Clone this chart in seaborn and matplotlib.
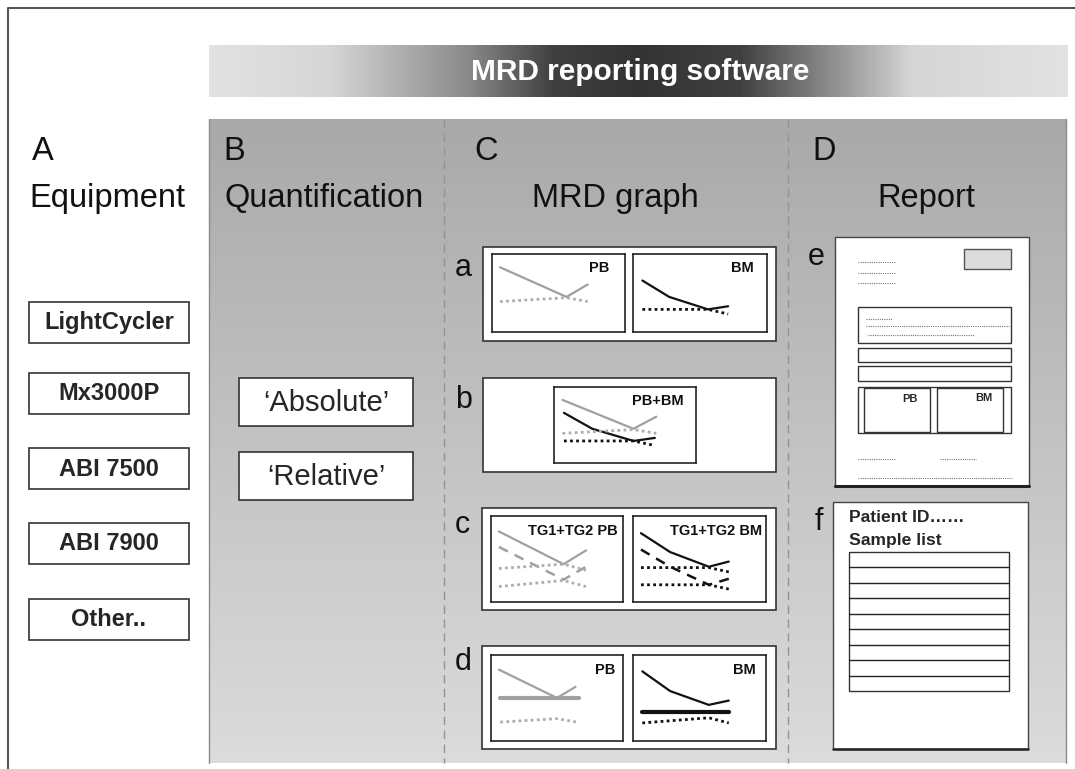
import matplotlib
matplotlib.use('Agg')
import matplotlib.pyplot as plt
from matplotlib.patches import Rectangle
from matplotlib.colors import LinearSegmentedColormap
import seaborn as sns
import numpy as np

sns.set_theme(style='white')
plt.rcParams['font.family'] = ['Liberation Sans', 'DejaVu Sans']

# --- texts ---
title = 'MRD reporting software'
col_letters = ['A', 'B', 'C', 'D']
col_titles = ['Equipment', 'Quantification', 'MRD graph', 'Report']
equipment = ['LightCycler', 'Mx3000P', 'ABI 7500', 'ABI 7900', 'Other..']
quant_modes = ['\u2018Absolute\u2019', '\u2018Relative\u2019']
graph_letters = ['a', 'b', 'c', 'd']

# --- mini MRD graph series (x = relative time, y = relative level) ---
pb_x = [0.06, 0.56, 0.72]
pb_y = [0.83, 0.45, 0.61]
pb_ctrl_y = [0.39, 0.44, 0.39]
bm_x = [0.07, 0.27, 0.56, 0.71]
bm_y = [0.66, 0.45, 0.29, 0.33]
bm_ctrl_x = [0.07, 0.56, 0.71]
bm_ctrl_y = [0.29, 0.29, 0.23]

tg_pb_x = [0.06, 0.55, 0.72]
tg1_pb_y = [0.82, 0.44, 0.60]
tg2_pb_y = [0.64, 0.26, 0.41]
tg1_pb_ctrl = [0.39, 0.44, 0.37]
tg2_pb_ctrl = [0.18, 0.25, 0.18]
tg_bm_x = [0.06, 0.28, 0.57, 0.72]
tg1_bm_y = [0.80, 0.58, 0.41, 0.47]
tg2_bm_y = [0.61, 0.41, 0.20, 0.27]
tg_bm_ctrl_x = [0.06, 0.57, 0.72]
tg1_bm_ctrl = [0.40, 0.40, 0.35]
tg2_bm_ctrl = [0.20, 0.20, 0.15]

d_pb_x = [0.06, 0.50, 0.64]
d_pb_y = [0.83, 0.50, 0.63]
d_pb_thr_x = [0.07, 0.67]
d_pb_thr = [0.50, 0.50]
d_pb_ctrl_x = [0.07, 0.50, 0.65]
d_pb_ctrl = [0.22, 0.26, 0.22]
d_bm_x = [0.07, 0.28, 0.57, 0.72]
d_bm_y = [0.81, 0.58, 0.42, 0.47]
d_bm_thr_x = [0.07, 0.72]
d_bm_thr = [0.34, 0.34]
d_bm_ctrl_x = [0.07, 0.57, 0.72]
d_bm_ctrl = [0.21, 0.27, 0.21]

W, H = 1075, 769
GRAY = '#a0a0a0'
LGRAY = '#adadad'
BLACK = '#111111'
DOT = (0, (1, 1.2))
DASH = (0, (4, 3))

fig = plt.figure(figsize=(W / 100, H / 100), dpi=100)
ax = fig.add_axes([0, 0, 1, 1])


def box(x0, y0, x1, y1, fc='white', ec='#333333', lw=1.2, z=2):
    ax.add_patch(Rectangle((x0, y0), x1 - x0, y1 - y0, fc=fc, ec=ec, lw=lw, zorder=z))


def dots(x0, x1, y):
    ax.plot([x0, x1], [y, y], color='#777777', lw=0.8, ls=(0, (1, 1)), zorder=4)


# outer frame
ax.plot([8, 8, W], [H, 8, 8], color='#555555', lw=1.5, zorder=1)

# banner gradient
banner_cmap = LinearSegmentedColormap.from_list('banner', [
    (0.0, '#e2e2e2'), (0.14, '#d6d6d6'), (0.30, '#8a8a8a'), (0.40, '#404040'),
    (0.50, '#333333'), (0.62, '#404040'), (0.72, '#8a8a8a'), (0.82, '#d6d6d6'),
    (1.0, '#e2e2e2')])
ax.imshow(np.linspace(0, 1, 512).reshape(1, -1), cmap=banner_cmap, aspect='auto',
          extent=(209, 1068, 97, 45), zorder=1)
ax.text(640, 72, title, color='white', fontsize=21.5, fontweight='bold',
        ha='center', va='center', zorder=3)

# panel gradient
panel_cmap = LinearSegmentedColormap.from_list('panel', ['#a9a9a9', '#dcdcdc'])
ax.imshow(np.linspace(0, 1, 256).reshape(-1, 1), cmap=panel_cmap, aspect='auto',
          extent=(209, 1066, 763, 119), zorder=0)
ax.plot([209, 209], [119, 763], color='#8a8a8a', lw=1, zorder=1)
ax.plot([1066, 1066], [119, 763], color='#8a8a8a', lw=1, zorder=1)
for xs in [444, 788]:
    ax.plot([xs, xs], [119, 763], color='#939393', lw=1, ls=(0, (6, 4)), zorder=1)

# column headers
letter_x = [32, 223, 474, 812]
title_x = [29, 225, 615, 926]
title_ha = ['left', 'left', 'center', 'center']
for L, T, lx, tx, ha in zip(col_letters, col_titles, letter_x, title_x, title_ha):
    ax.text(lx, 160, L, fontsize=23.5, ha='left', va='baseline', color='#111111')
    ax.text(tx, 207, T, fontsize=23.5, ha=ha, va='baseline', color='#111111')

# equipment boxes
eq_tops = [302, 373, 448, 523, 599]
for name, top in zip(equipment, eq_tops):
    box(29, top, 189, top + 41)
    ax.text(109, top + 21, name, fontsize=17, fontweight='bold', ha='center', va='center', zorder=3)

# quantification boxes
q_tops = [378, 452]
for name, top in zip(quant_modes, q_tops):
    box(239, top, 413, top + 48)
    ax.text(326, top + 25, name, fontsize=21, ha='center', va='center', zorder=3)

# MRD graph outer boxes
outer = [(483, 247, 776, 341), (483, 378, 776, 472), (482, 508, 776, 610), (482, 646, 776, 749)]
letter_base = [276, 408, 533, 670]
for (x0, y0, x1, y1), yb, lt in zip(outer, letter_base, graph_letters):
    box(x0, y0, x1, y1)
    ax.text(455, yb, lt, fontsize=22, ha='left', va='baseline', color='#111111')


def mini(bx, series, label, lab_x, fs=10.5):
    x0, y0, x1, y1 = bx
    a = fig.add_axes([x0 / W, 1 - y1 / H, (x1 - x0) / W, (y1 - y0) / H])
    a.set_facecolor('white')
    for xs, ys, color, ls, lw in series:
        sns.lineplot(x=xs, y=ys, ax=a, color=color, linestyle=ls, linewidth=lw,
                     sort=False, errorbar=None)
    a.set_xlim(0, 1)
    a.set_ylim(0, 1)
    a.set_xticks([])
    a.set_yticks([])
    a.set_xlabel('')
    a.set_ylabel('')
    for s in a.spines.values():
        s.set_visible(True)
        s.set_color('#222222')
        s.set_linewidth(1.2)
    a.text(lab_x, 0.91, label, transform=a.transAxes, ha='right', va='top',
           fontsize=fs, fontweight='bold', color='#111111')
    return a


# a
mini((492, 254, 625, 332), [(pb_x, pb_y, GRAY, '-', 1.6), (pb_x, pb_ctrl_y, LGRAY, DOT, 2)], 'PB', 0.88)
mini((633, 254, 767, 332), [(bm_x, bm_y, BLACK, '-', 1.6), (bm_ctrl_x, bm_ctrl_y, BLACK, DOT, 2)], 'BM', 0.90)
# b
mini((554, 387, 696, 463), [(pb_x, pb_y, GRAY, '-', 1.6), (bm_x, bm_y, BLACK, '-', 1.6),
                            (pb_x, pb_ctrl_y, LGRAY, DOT, 2), (bm_ctrl_x, bm_ctrl_y, BLACK, DOT, 2)],
     'PB+BM', 0.91)
# c
mini((491, 516, 623, 602), [(tg_pb_x, tg1_pb_y, GRAY, '-', 1.6), (tg_pb_x, tg2_pb_y, GRAY, DASH, 1.8),
                            (tg_pb_x, tg1_pb_ctrl, LGRAY, DOT, 2), (tg_pb_x, tg2_pb_ctrl, LGRAY, DOT, 2)],
     'TG1+TG2 PB', 0.96)
mini((633, 516, 766, 602), [(tg_bm_x, tg1_bm_y, BLACK, '-', 1.6), (tg_bm_x, tg2_bm_y, BLACK, DASH, 1.8),
                            (tg_bm_ctrl_x, tg1_bm_ctrl, BLACK, DOT, 2), (tg_bm_ctrl_x, tg2_bm_ctrl, BLACK, DOT, 2)],
     'TG1+TG2 BM', 0.97)
# d
mini((491, 655, 623, 741), [(d_pb_x, d_pb_y, GRAY, '-', 1.6), (d_pb_thr_x, d_pb_thr, GRAY, '-', 3),
                            (d_pb_ctrl_x, d_pb_ctrl, LGRAY, DOT, 2)], 'PB', 0.94)
mini((633, 655, 766, 741), [(d_bm_x, d_bm_y, BLACK, '-', 1.6), (d_bm_thr_x, d_bm_thr, BLACK, '-', 3),
                            (d_bm_ctrl_x, d_bm_ctrl, BLACK, DOT, 2)], 'BM', 0.92)

# report e
ax.text(808, 265, 'e', fontsize=22, ha='left', va='baseline', color='#111111')
box(835, 237, 1029, 486, ec='#444444', lw=1)
ax.plot([835, 1029], [486, 486], color='#222222', lw=2.2, zorder=3)
for yy in [262, 273, 283]:
    dots(858, 895, yy)
box(964, 249, 1011, 269, fc='#dcdcdc', ec='#555555', lw=1, z=3)
box(858, 307, 1011, 343, lw=1, z=3)
dots(866, 892, 319)
dots(866, 1009, 326)
dots(868, 974, 335)
box(858, 348, 1011, 362, lw=1, z=3)
box(858, 366, 1011, 381, lw=1, z=3)
box(858, 387, 1011, 433, lw=1, z=3)
box(864, 388, 930, 432, lw=1, z=3)
box(937, 388, 1003, 432, lw=1, z=3)
ax.text(910, 399, 'PB', fontsize=8, fontweight='bold', ha='center', va='center', zorder=4)
ax.text(984, 398, 'BM', fontsize=8, fontweight='bold', ha='center', va='center', zorder=4)
dots(858, 895, 459)
dots(940, 976, 459)
dots(858, 1012, 478)

# report f
ax.text(815, 530, 'f', fontsize=22, ha='left', va='baseline', color='#111111')
box(833, 502, 1028, 749, ec='#444444', lw=1)
ax.plot([833, 1028], [749, 749], color='#222222', lw=1.8, zorder=3)
ax.text(849, 522, 'Patient ID\u2026\u2026', fontsize=12.6, fontweight='bold', ha='left',
        va='baseline', zorder=4)
ax.text(849, 545, 'Sample list', fontsize=12.6, fontweight='bold', ha='left',
        va='baseline', zorder=4)
box(849, 552, 1009, 691, lw=1, z=3)
for yy in np.linspace(552, 691, 10)[1:-1]:
    ax.plot([849, 1009], [yy, yy], color='#222222', lw=1, zorder=4)

ax.set_xlim(0, W)
ax.set_ylim(H, 0)
ax.axis('off')

fig.savefig('out.png', dpi=100, facecolor='white')
